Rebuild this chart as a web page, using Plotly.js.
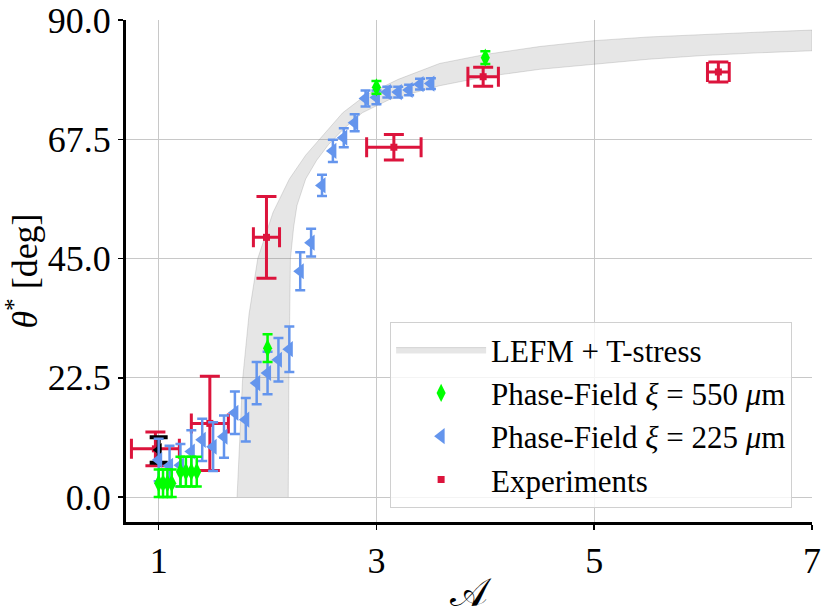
<!DOCTYPE html>
<html>
<head>
<meta charset="utf-8">
<script src="https://cdn.plot.ly/plotly-3.0.1.min.js"></script>
<style>
  html, body { margin: 0; padding: 0; background: #fff; }
  #myDiv { width: 830px; height: 615px; }
</style>
</head>
<body>
<div id="myDiv"></div>
<script>
// LEFM + T-stress band (upper and lower edge)
var bandUpX = [1.72, 1.745, 1.77, 1.83, 1.91, 2.05, 2.2, 2.35, 2.48, 2.69, 2.9, 3.2, 3.58, 4.0, 4.5, 5.0, 5.5, 6.0, 6.5, 7.0];
var bandUpY = [0, 12, 22, 34.5, 45, 53.7, 60, 64.5, 67.5, 72.5, 75.8, 78.8, 81.8, 83.5, 85.0, 86.1, 86.8, 87.3, 87.7, 88.1];
var bandLoX = [2.19, 2.195, 2.2, 2.21, 2.24, 2.27, 2.35, 2.45, 2.56, 2.7, 2.87, 3.12, 3.58, 4.0, 4.5, 5.0, 5.5, 6.0, 6.5, 7.0];
var bandLoY = [0, 20, 33, 45, 51, 55, 60, 63.5, 66.5, 69.5, 72.5, 75.0, 77.6, 79.3, 80.7, 81.7, 82.6, 83.3, 83.8, 84.2];

// Phase-Field xi = 550 um
var pf550X = [1.0, 1.04, 1.08, 1.12, 1.2, 1.25, 1.3, 1.35, 2.0, 3.0, 4.0];
var pf550Y = [2.6, 2.6, 2.6, 2.6, 4.8, 4.8, 4.8, 4.8, 28.1, 77.3, 82.9];
var pf550Err = [2.6, 2.6, 2.6, 2.6, 2.8, 2.8, 2.8, 2.8, 2.6, 1.2, 1.2];

// Phase-Field xi = 225 um
var pf225X = [1.0, 1.1, 1.2, 1.3, 1.4, 1.5, 1.6, 1.7, 1.8, 1.9, 2.0, 2.1, 2.2, 2.3, 2.4, 2.5, 2.6, 2.7, 2.8, 2.9, 3.0, 3.1, 3.2, 3.3, 3.4, 3.5];
var pf225Y = [7.0, 5.9, 6.0, 8.6, 10.8, 9.5, 11.4, 15.9, 14.6, 21.5, 23.4, 25.9, 27.9, 42.6, 48.0, 58.8, 65.3, 67.8, 70.6, 75.2, 75.4, 76.4, 76.4, 76.8, 77.9, 78.0];
var pf225Err = [4.0, 3.8, 4.0, 4.0, 4.0, 4.6, 4.0, 4.0, 4.1, 4.0, 4.0, 4.1, 4.3, 3.6, 2.6, 2.0, 2.1, 1.8, 1.6, 1.5, 1.3, 1.0, 1.0, 1.0, 1.0, 1.0];

// extra black point at A = 1
var blackX = [1.0];
var blackY = [8.9];
var blackErr = [2.4];

// Experiments
var expX = [0.97, 1.47, 1.99, 3.16, 3.98, 6.14];
var expY = [9.1, 13.9, 49.0, 66.0, 79.3, 80.2];
var expXErr = [0.22, 0.17, 0.12, 0.25, 0.14, 0.10];
var expYErr = [3.2, 8.9, 7.7, 2.4, 1.8, 1.9];

var yTicks = [0, 22.5, 45, 67.5, 90];
var xTicks = [1, 3, 5, 7];

var band = {
  x: bandUpX.concat(bandLoX.slice().reverse()),
  y: bandUpY.concat(bandLoY.slice().reverse()),
  type: 'scatter', mode: 'lines', fill: 'toself',
  fillcolor: 'rgba(128,128,128,0.2)',
  line: {color: 'rgba(128,128,128,0.25)', width: 1},
  name: 'LEFM + T-stress', legendrank: 1, hoverinfo: 'skip'
};

var experiments = {
  x: expX, y: expY, type: 'scatter', mode: 'markers',
  name: 'Experiments', legendrank: 4,
  marker: {symbol: 'square', size: 7, color: '#DC143C'},
  error_x: {type: 'data', array: expXErr, visible: true, color: '#DC143C', thickness: 3, width: 10},
  error_y: {type: 'data', array: expYErr, visible: true, color: '#DC143C', thickness: 3, width: 10}
};

var pf225 = {
  x: pf225X, y: pf225Y, type: 'scatter', mode: 'markers',
  name: 'Phase-Field <i>ξ</i> = 225 <i>μ</i>m', legendrank: 3,
  marker: {symbol: 'triangle-left', size: 14, color: '#6495ED'},
  error_y: {type: 'data', array: pf225Err, visible: true, color: '#6495ED', thickness: 2.5, width: 5}
};

var pf550 = {
  x: pf550X, y: pf550Y, type: 'scatter', mode: 'markers',
  name: 'Phase-Field <i>ξ</i> = 550 <i>μ</i>m', legendrank: 2,
  marker: {symbol: 'diamond-tall', size: 13, color: '#00FF00'},
  error_y: {type: 'data', array: pf550Err, visible: true, color: '#00FF00', thickness: 2.5, width: 5}
};

var blackPt = {
  x: blackX, y: blackY, type: 'scatter', mode: 'markers', showlegend: false,
  marker: {symbol: 'triangle-left', size: 12, color: '#000'},
  error_y: {type: 'data', array: blackErr, visible: true, color: '#000', thickness: 4, width: 9}
};

var data = [band, experiments, blackPt, pf225, pf550];

var font = 'Liberation Serif, Times New Roman, serif';

var layout = {
  width: 830, height: 615,
  margin: {l: 126, r: 18, t: 20, b: 93},
  paper_bgcolor: '#fff', plot_bgcolor: '#fff',
  font: {family: font, color: '#000'},
  showlegend: true,
  legend: {
    x: 0.385, y: 0.028, xanchor: 'left', yanchor: 'bottom',
    bgcolor: 'rgba(255,255,255,0.8)', bordercolor: '#d0d0d0', borderwidth: 1,
    font: {family: font, size: 31, color: '#000'},
    itemwidth: 90, traceorder: 'normal'
  },
  xaxis: {
    range: [0.7, 7.0], tickvals: xTicks, ticktext: xTicks.map(String),
    showgrid: true, gridcolor: '#c8c8c8', gridwidth: 1, zeroline: false,
    showline: true, linecolor: '#000', linewidth: 3,
    ticks: 'outside', ticklen: 5, tickwidth: 1.5, tickcolor: '#000',
    tickfont: {family: font, size: 36},
    title: {text: '𝒜', font: {family: font, size: 40}, standoff: 4}
  },
  yaxis: {
    range: [-4.7, 90], tickvals: yTicks, tickformat: '.1f',
    showgrid: true, gridcolor: '#c8c8c8', gridwidth: 1, zeroline: false,
    showline: true, linecolor: '#000', linewidth: 3,
    ticks: 'outside', ticklen: 5, tickwidth: 1.5, tickcolor: '#000',
    tickfont: {family: font, size: 36},
    title: {text: '<i>θ</i><sup>*</sup> [deg]', font: {family: font, size: 36}, standoff: 6}
  }
};

Plotly.newPlot('myDiv', data, layout, {staticPlot: true});
</script>
</body>
</html>
